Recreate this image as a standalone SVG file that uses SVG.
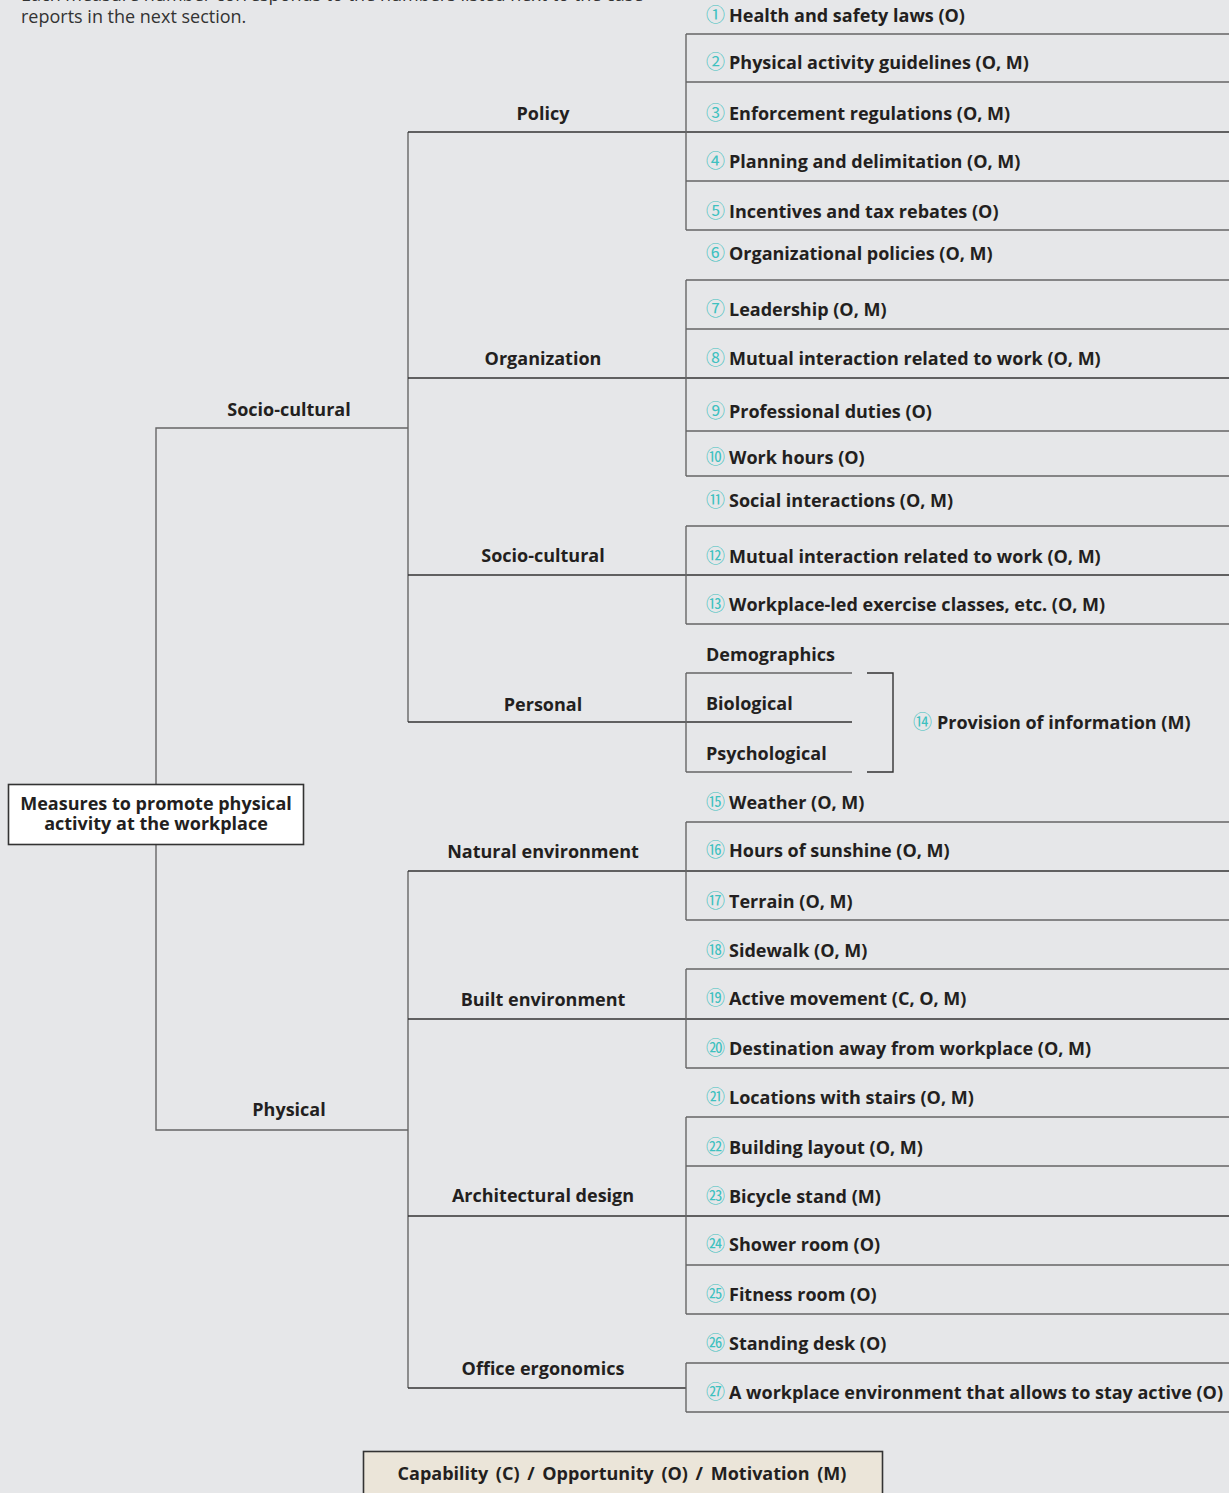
<svg xmlns="http://www.w3.org/2000/svg" width="1229" height="1493" viewBox="0 0 1229 1493">
  <style>
    .bg { fill: #e6e7e9; }
    .t { font-family: "Open Sans", "Noto Sans", "DejaVu Sans", sans-serif; font-weight: 700; font-size: 18px; fill: #231f20; }
    .c { text-anchor: middle; }
    .note { font-family: "Open Sans", "Noto Sans", sans-serif; font-weight: 400; font-size: 18px; fill: #333333; }
    .n { font-family: "Noto Sans CJK JP", "DejaVu Sans", sans-serif; font-weight: 400; font-size: 19px; fill: #3fc1c0; }
    .ln { stroke: #666666; stroke-width: 1.4; fill: none; }
    .main { stroke: #333333; stroke-width: 1.4; fill: none; }
    .box { fill: #ffffff; stroke: #333333; stroke-width: 1.6; }
    .legend { fill: #ebe5d9; stroke: #333333; stroke-width: 1.6; }
    .wide { word-spacing: 3px; }
  </style>

  <rect class="bg" x="0" y="0" width="1229" height="1493"/>

  <!-- explanatory note, top left -->
  <text class="note" x="21" y="1">Each measure number corresponds to the numbers listed next to the case</text>
  <text class="note" x="21" y="23">reports in the next section.</text>

  <!-- tree connectors -->
  <g id="connectors">
    <!-- root to level 1 -->
    <path class="ln" d="M156 784 V428 H408"/>
    <path class="ln" d="M156 845 V1130 H408"/>
    <!-- socio-cultural branch -->
    <path class="ln" d="M408 132 V722"/>
    <path class="main" d="M408 132 H1229"/>
    <path class="main" d="M408 378 H1229"/>
    <path class="main" d="M408 575 H1229"/>
    <path class="main" d="M408 722 H852"/>
    <!-- physical branch -->
    <path class="ln" d="M408 871 V1388"/>
    <path class="main" d="M408 871 H1229"/>
    <path class="main" d="M408 1019 H1229"/>
    <path class="main" d="M408 1216 H1229"/>
    <path class="main" d="M408 1388 H686"/>

    <!-- policy items -->
    <path class="ln" d="M686 34 V230"/>
    <path class="ln" d="M686 34 H1229 M686 82 H1229 M686 181 H1229 M686 230 H1229"/>
    <!-- organization items -->
    <path class="ln" d="M686 280 V476"/>
    <path class="ln" d="M686 280 H1229 M686 329 H1229 M686 431 H1229 M686 476 H1229"/>
    <!-- socio-cultural items -->
    <path class="ln" d="M686 526 V624"/>
    <path class="ln" d="M686 526 H1229 M686 624 H1229"/>
    <!-- personal items -->
    <path class="ln" d="M686 673 V772"/>
    <path class="ln" d="M686 673 H852 M686 772 H852"/>
    <path class="main" d="M867 673 H893 V772 H867"/>
    <!-- natural environment items -->
    <path class="ln" d="M686 822 V920"/>
    <path class="ln" d="M686 822 H1229 M686 920 H1229"/>
    <!-- built environment items -->
    <path class="ln" d="M686 969 V1068"/>
    <path class="ln" d="M686 969 H1229 M686 1068 H1229"/>
    <!-- architectural design items -->
    <path class="ln" d="M686 1117 V1314"/>
    <path class="ln" d="M686 1117 H1229 M686 1166 H1229 M686 1265 H1229 M686 1314 H1229"/>
    <!-- office ergonomics items -->
    <path class="ln" d="M686 1363 V1412"/>
    <path class="ln" d="M686 1363 H1229 M686 1412 H1229"/>
  </g>

  <!-- root -->
  <g id="root">
    <rect class="box" x="8.5" y="784.5" width="295" height="60"/>
    <text class="t c" x="156" y="810">Measures to promote physical</text>
    <text class="t c" x="156" y="830">activity at the workplace</text>
  </g>

  <!-- level 1 -->
  <g id="l1-socio"><text class="t c" x="289" y="416">Socio-cultural</text></g>
  <g id="l1-physical"><text class="t c" x="289" y="1116">Physical</text></g>

  <!-- level 2 -->
  <g id="l2-policy"><text class="t c" x="543" y="120">Policy</text></g>
  <g id="l2-organization"><text class="t c" x="543" y="365">Organization</text></g>
  <g id="l2-socio"><text class="t c" x="543" y="562">Socio-cultural</text></g>
  <g id="l2-personal"><text class="t c" x="543" y="711">Personal</text></g>
  <g id="l2-natural"><text class="t c" x="543" y="858">Natural environment</text></g>
  <g id="l2-built"><text class="t c" x="543" y="1006">Built environment</text></g>
  <g id="l2-arch"><text class="t c" x="543" y="1202">Architectural design</text></g>
  <g id="l2-office"><text class="t c" x="543" y="1375">Office ergonomics</text></g>

  <!-- personal sub-categories -->
  <g id="p-demo"><text class="t" x="706" y="661">Demographics</text></g>
  <g id="p-bio"><text class="t" x="706" y="710">Biological</text></g>
  <g id="p-psy"><text class="t" x="706" y="760">Psychological</text></g>

  <!-- measures -->
  <g id="m1"><text class="n" x="706" y="22">①</text><text class="t" x="729" y="22">Health and safety laws (O)</text></g>
  <g id="m2"><text class="n" x="706" y="69">②</text><text class="t" x="729" y="69">Physical activity guidelines (O, M)</text></g>
  <g id="m3"><text class="n" x="706" y="120">③</text><text class="t" x="729" y="120">Enforcement regulations (O, M)</text></g>
  <g id="m4"><text class="n" x="706" y="168">④</text><text class="t" x="729" y="168">Planning and delimitation (O, M)</text></g>
  <g id="m5"><text class="n" x="706" y="218">⑤</text><text class="t" x="729" y="218">Incentives and tax rebates (O)</text></g>
  <g id="m6"><text class="n" x="706" y="260">⑥</text><text class="t" x="729" y="260">Organizational policies (O, M)</text></g>
  <g id="m7"><text class="n" x="706" y="316">⑦</text><text class="t" x="729" y="316">Leadership (O, M)</text></g>
  <g id="m8"><text class="n" x="706" y="365">⑧</text><text class="t" x="729" y="365">Mutual interaction related to work (O, M)</text></g>
  <g id="m9"><text class="n" x="706" y="418">⑨</text><text class="t" x="729" y="418">Professional duties (O)</text></g>
  <g id="m10"><text class="n" x="706" y="464">⑩</text><text class="t" x="729" y="464">Work hours (O)</text></g>
  <g id="m11"><text class="n" x="706" y="507">⑪</text><text class="t" x="729" y="507">Social interactions (O, M)</text></g>
  <g id="m12"><text class="n" x="706" y="563">⑫</text><text class="t" x="729" y="563">Mutual interaction related to work (O, M)</text></g>
  <g id="m13"><text class="n" x="706" y="611">⑬</text><text class="t" x="729" y="611">Workplace-led exercise classes, etc. (O, M)</text></g>
  <g id="m14"><text class="n" x="913" y="729">⑭</text><text class="t" x="937" y="729">Provision of information (M)</text></g>
  <g id="m15"><text class="n" x="706" y="809">⑮</text><text class="t" x="729" y="809">Weather (O, M)</text></g>
  <g id="m16"><text class="n" x="706" y="857">⑯</text><text class="t" x="729" y="857">Hours of sunshine (O, M)</text></g>
  <g id="m17"><text class="n" x="706" y="908">⑰</text><text class="t" x="729" y="908">Terrain (O, M)</text></g>
  <g id="m18"><text class="n" x="706" y="957">⑱</text><text class="t" x="729" y="957">Sidewalk (O, M)</text></g>
  <g id="m19"><text class="n" x="706" y="1005">⑲</text><text class="t" x="729" y="1005">Active movement  (C, O, M)</text></g>
  <g id="m20"><text class="n" x="706" y="1055">⑳</text><text class="t" x="729" y="1055">Destination away from workplace (O, M)</text></g>
  <g id="m21"><text class="n" x="706" y="1104">㉑</text><text class="t" x="729" y="1104">Locations with stairs (O, M)</text></g>
  <g id="m22"><text class="n" x="706" y="1154">㉒</text><text class="t" x="729" y="1154">Building layout  (O, M)</text></g>
  <g id="m23"><text class="n" x="706" y="1203">㉓</text><text class="t" x="729" y="1203">Bicycle stand (M)</text></g>
  <g id="m24"><text class="n" x="706" y="1251">㉔</text><text class="t" x="729" y="1251">Shower room (O)</text></g>
  <g id="m25"><text class="n" x="706" y="1301">㉕</text><text class="t" x="729" y="1301">Fitness room (O)</text></g>
  <g id="m26"><text class="n" x="706" y="1350">㉖</text><text class="t" x="729" y="1350">Standing desk (O)</text></g>
  <g id="m27"><text class="n" x="706" y="1399">㉗</text><text class="t" x="729" y="1399">A workplace environment that allows to stay active (O)</text></g>

  <!-- legend -->
  <g id="legend">
    <rect class="legend" x="363.5" y="1451.5" width="519" height="50"/>
    <text class="t c wide" x="622" y="1480">Capability (C) / Opportunity (O) / Motivation (M)</text>
  </g>
</svg>
